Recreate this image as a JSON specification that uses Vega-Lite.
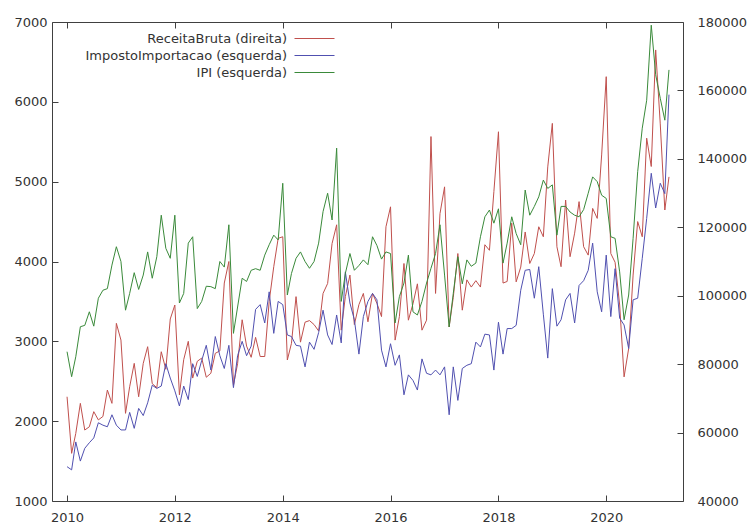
{
  "$schema": "https://vega.github.io/schema/vega-lite/v6.json",
  "width": 631,
  "height": 479,
  "autosize": {"type": "none"},
  "padding": {"left": 52, "top": 22, "right": 64, "bottom": 26},
  "background": "white",
  "config": {
    "view": {"stroke": "#404040", "strokeWidth": 1},
    "axis": {"labelFont": "DejaVu Sans", "labelFontSize": 13, "labelColor": "#333333", "tickColor": "#404040", "grid": false, "domain": false, "title": null, "tickSize": -6}
  },
  "data": {"values": [
    {"d":"2010-01","rb":70470,"ii":1430,"ipi":2870},{"d":"2010-02","rb":53930,"ii":1390,"ipi":2557},{"d":"2010-03","rb":59760,"ii":1740,"ipi":2807},{"d":"2010-04","rb":68540,"ii":1500,"ipi":3183},{"d":"2010-05","rb":60740,"ii":1660,"ipi":3200},{"d":"2010-06","rb":61700,"ii":1730,"ipi":3370},{"d":"2010-07","rb":66110,"ii":1790,"ipi":3190},{"d":"2010-08","rb":63710,"ii":1980,"ipi":3540},{"d":"2010-09","rb":64710,"ii":1950,"ipi":3640},{"d":"2010-10","rb":72430,"ii":1930,"ipi":3660},{"d":"2010-11","rb":68540,"ii":2080,"ipi":3955},{"d":"2010-12","rb":91920,"ii":1950,"ipi":4185},
    {"d":"2011-01","rb":87040,"ii":1890,"ipi":4000},{"d":"2011-02","rb":65620,"ii":1890,"ipi":3390},{"d":"2011-03","rb":73390,"ii":2110,"ipi":3600},{"d":"2011-04","rb":80230,"ii":1910,"ipi":3860},{"d":"2011-05","rb":70470,"ii":2160,"ipi":3650},{"d":"2011-06","rb":80230,"ii":2070,"ipi":3830},{"d":"2011-07","rb":85100,"ii":2230,"ipi":4120},{"d":"2011-08","rb":74300,"ii":2450,"ipi":3790},{"d":"2011-09","rb":73130,"ii":2410,"ipi":4060},{"d":"2011-10","rb":83630,"ii":2440,"ipi":4580},{"d":"2011-11","rb":78500,"ii":2720,"ipi":4165},{"d":"2011-12","rb":93200,"ii":2540,"ipi":4040},
    {"d":"2012-01","rb":97280,"ii":2380,"ipi":4580},{"d":"2012-02","rb":71030,"ii":2190,"ipi":3480},{"d":"2012-03","rb":81300,"ii":2440,"ipi":3600},{"d":"2012-04","rb":86670,"ii":2270,"ipi":4230},{"d":"2012-05","rb":75930,"ii":2720,"ipi":4310},{"d":"2012-06","rb":80830,"ii":2560,"ipi":3410},{"d":"2012-07","rb":81770,"ii":2760,"ipi":3500},{"d":"2012-08","rb":76170,"ii":2950,"ipi":3690},{"d":"2012-09","rb":77330,"ii":2640,"ipi":3685},{"d":"2012-10","rb":83170,"ii":3060,"ipi":3660},{"d":"2012-11","rb":83870,"ii":2820,"ipi":4000},{"d":"2012-12","rb":103700,"ii":2660,"ipi":3930},
    {"d":"2013-01","rb":110000,"ii":2950,"ipi":4460},{"d":"2013-02","rb":73830,"ii":2420,"ipi":3100},{"d":"2013-03","rb":80130,"ii":2820,"ipi":3430},{"d":"2013-04","rb":92970,"ii":3000,"ipi":3790},{"d":"2013-05","rb":85270,"ii":2820,"ipi":3750},{"d":"2013-06","rb":82000,"ii":2940,"ipi":3890},{"d":"2013-07","rb":87830,"ii":3400,"ipi":3910},{"d":"2013-08","rb":82230,"ii":3460,"ipi":3890},{"d":"2013-09","rb":82230,"ii":3230,"ipi":4080},{"d":"2013-10","rb":98330,"ii":3620,"ipi":4210},{"d":"2013-11","rb":108480,"ii":3100,"ipi":4330},{"d":"2013-12","rb":116770,"ii":3500,"ipi":4270},
    {"d":"2014-01","rb":117230,"ii":3460,"ipi":4980},{"d":"2014-02","rb":81210,"ii":3080,"ipi":3580},{"d":"2014-03","rb":86080,"ii":3060,"ipi":3850},{"d":"2014-04","rb":99730,"ii":2950,"ipi":4040},{"d":"2014-05","rb":86430,"ii":2940,"ipi":4120},{"d":"2014-06","rb":92270,"ii":2680,"ipi":4000},{"d":"2014-07","rb":92730,"ii":2990,"ipi":3915},{"d":"2014-08","rb":91570,"ii":2900,"ipi":4000},{"d":"2014-09","rb":89700,"ii":3110,"ipi":4230},{"d":"2014-10","rb":100670,"ii":3390,"ipi":4625},{"d":"2014-11","rb":103580,"ii":3080,"ipi":4855},{"d":"2014-12","rb":115250,"ii":2960,"ipi":4520},
    {"d":"2015-01","rb":120730,"ii":3330,"ipi":5420},{"d":"2015-02","rb":89930,"ii":2980,"ipi":3500},{"d":"2015-03","rb":99730,"ii":3870,"ipi":3850},{"d":"2015-04","rb":106030,"ii":3480,"ipi":4100},{"d":"2015-05","rb":91570,"ii":3270,"ipi":3890},{"d":"2015-06","rb":97400,"ii":2840,"ipi":3950},{"d":"2015-07","rb":100670,"ii":3310,"ipi":4020},{"d":"2015-08","rb":92380,"ii":3500,"ipi":3960},{"d":"2015-09","rb":100670,"ii":3600,"ipi":4310},{"d":"2015-10","rb":97750,"ii":3520,"ipi":4200},{"d":"2015-11","rb":93900,"ii":2890,"ipi":4030},{"d":"2015-12","rb":120150,"ii":2680,"ipi":4120},
    {"d":"2016-01","rb":125980,"ii":2970,"ipi":4100},{"d":"2016-02","rb":87020,"ii":2700,"ipi":3230},{"d":"2016-03","rb":93900,"ii":2830,"ipi":3560},{"d":"2016-04","rb":109420,"ii":2330,"ipi":3730},{"d":"2016-05","rb":92850,"ii":2580,"ipi":4080},{"d":"2016-06","rb":97630,"ii":2510,"ipi":3370},{"d":"2016-07","rb":103470,"ii":2390,"ipi":3330},{"d":"2016-08","rb":89930,"ii":2780,"ipi":3500},{"d":"2016-09","rb":92850,"ii":2600,"ipi":3730},{"d":"2016-10","rb":146520,"ii":2580,"ipi":3915},{"d":"2016-11","rb":100670,"ii":2640,"ipi":4100},{"d":"2016-12","rb":124000,"ii":2580,"ipi":4460},
    {"d":"2017-01","rb":131820,"ii":2680,"ipi":3830},{"d":"2017-02","rb":90870,"ii":2080,"ipi":3180},{"d":"2017-03","rb":99500,"ii":2680,"ipi":3600},{"d":"2017-04","rb":112330,"ii":2260,"ipi":4060},{"d":"2017-05","rb":95770,"ii":2660,"ipi":3720},{"d":"2017-06","rb":104630,"ii":2700,"ipi":4020},{"d":"2017-07","rb":102530,"ii":2720,"ipi":3940},{"d":"2017-08","rb":104400,"ii":2990,"ipi":3980},{"d":"2017-09","rb":102530,"ii":2930,"ipi":4310},{"d":"2017-10","rb":114900,"ii":3090,"ipi":4560},{"d":"2017-11","rb":113270,"ii":3080,"ipi":4645},{"d":"2017-12","rb":130420,"ii":2640,"ipi":4480},
    {"d":"2018-01","rb":147920,"ii":3240,"ipi":4660},{"d":"2018-02","rb":103700,"ii":2840,"ipi":3980},{"d":"2018-03","rb":104170,"ii":3160,"ipi":4230},{"d":"2018-04","rb":121200,"ii":3160,"ipi":4560},{"d":"2018-05","rb":104050,"ii":3200,"ipi":4350},{"d":"2018-06","rb":108370,"ii":3640,"ipi":4210},{"d":"2018-07","rb":118630,"ii":3890,"ipi":4895},{"d":"2018-08","rb":109420,"ii":3900,"ipi":4580},{"d":"2018-09","rb":112330,"ii":3540,"ipi":4690},{"d":"2018-10","rb":120150,"ii":3935,"ipi":4810},{"d":"2018-11","rb":117230,"ii":3340,"ipi":5020},{"d":"2018-12","rb":137650,"ii":2790,"ipi":4915},
    {"d":"2019-01","rb":150370,"ii":3660,"ipi":4960},{"d":"2019-02","rb":114320,"ii":3190,"ipi":4330},{"d":"2019-03","rb":108480,"ii":3270,"ipi":4690},{"d":"2019-04","rb":127970,"ii":3520,"ipi":4690},{"d":"2019-05","rb":111400,"ii":3600,"ipi":4620},{"d":"2019-06","rb":118280,"ii":3230,"ipi":4580},{"d":"2019-07","rb":127500,"ii":3700,"ipi":4560},{"d":"2019-08","rb":114320,"ii":3760,"ipi":4650},{"d":"2019-09","rb":111870,"ii":3890,"ipi":4855},{"d":"2019-10","rb":125520,"ii":4230,"ipi":5060},{"d":"2019-11","rb":122600,"ii":3620,"ipi":5000},{"d":"2019-12","rb":141150,"ii":3370,"ipi":4830},
    {"d":"2020-01","rb":164020,"ii":4080,"ipi":4790},{"d":"2020-02","rb":112330,"ii":3310,"ipi":4310},{"d":"2020-03","rb":109770,"ii":3910,"ipi":4290},{"d":"2020-04","rb":97280,"ii":3290,"ipi":3870},{"d":"2020-05","rb":76280,"ii":3205,"ipi":3270},{"d":"2020-06","rb":84570,"ii":2910,"ipi":3580},{"d":"2020-07","rb":106030,"ii":3520,"ipi":4290},{"d":"2020-08","rb":121670,"ii":3540,"ipi":5125},{"d":"2020-09","rb":117230,"ii":4040,"ipi":5670},{"d":"2020-10","rb":146050,"ii":4540,"ipi":6020},{"d":"2020-11","rb":137770,"ii":5105,"ipi":6960},{"d":"2020-12","rb":171830,"ii":4670,"ipi":6340},
    {"d":"2021-01","rb":150220,"ii":4980,"ipi":6045},{"d":"2021-02","rb":125050,"ii":4850,"ipi":5770},{"d":"2021-03","rb":134730,"ii":6090,"ipi":6400}
  ]},
  "layer": [
    {
      "transform": [{"fold": ["rb"], "as": ["k", "v"]}],
      "mark": {"type": "line", "strokeWidth": 1},
      "encoding": {
        "x": {"field": "d", "type": "temporal",
          "scale": {"type": "utc", "domain": [{"year": 2009, "month": 9, "date": 21, "utc": true}, {"year": 2021, "month": 6, "date": 4, "utc": true}]},
          "axis": {"orient": "top", "labels": false, "values": [{"year": 2010, "utc": true}, {"year": 2012, "utc": true}, {"year": 2014, "utc": true}, {"year": 2016, "utc": true}, {"year": 2018, "utc": true}, {"year": 2020, "utc": true}]}},
        "y": {"field": "v", "type": "quantitative",
          "scale": {"domain": [40000, 180000], "nice": false, "zero": false},
          "axis": {"orient": "right", "values": [40000, 60000, 80000, 100000, 120000, 140000, 160000, 180000], "format": "d", "labelPadding": 20}},
        "color": {"field": "k", "type": "nominal",
          "scale": {"domain": ["rb", "ii", "ipi"], "range": ["#c0504d", "#5050b0", "#3a8a3a"]},
          "legend": {"orient": "none", "legendX": 256, "legendY": 10, "title": null, "padding": 0,
            "symbolType": "M-5,0H5", "symbolSize": 64, "symbolStrokeWidth": 1,
            "labelAlign": "right", "labelOffset": -34, "labelFont": "DejaVu Sans", "labelFontSize": 13, "labelColor": "#333333", "labelLimit": 400, "rowPadding": 3,
            "labelExpr": "datum.label == 'rb' ? 'ReceitaBruta (direita)' : datum.label == 'ii' ? 'ImpostoImportacao (esquerda)' : 'IPI (esquerda)'"}}
      }
    },
    {
      "transform": [{"fold": ["ii", "ipi"], "as": ["k", "v"]}],
      "mark": {"type": "line", "strokeWidth": 1},
      "encoding": {
        "x": {"field": "d", "type": "temporal",
          "axis": {"orient": "bottom", "format": "%Y", "labelPadding": 16, "values": [{"year": 2010, "utc": true}, {"year": 2012, "utc": true}, {"year": 2014, "utc": true}, {"year": 2016, "utc": true}, {"year": 2018, "utc": true}, {"year": 2020, "utc": true}]}},
        "y": {"field": "v", "type": "quantitative",
          "scale": {"domain": [1000, 7000], "nice": false, "zero": false},
          "axis": {"orient": "left", "values": [1000, 2000, 3000, 4000, 5000, 6000, 7000], "format": "d", "labelPadding": 11}},
        "color": {"field": "k", "type": "nominal"}
      }
    }
  ],
  "resolve": {"scale": {"y": "independent"}, "axis": {"x": "independent", "y": "independent"}}
}
